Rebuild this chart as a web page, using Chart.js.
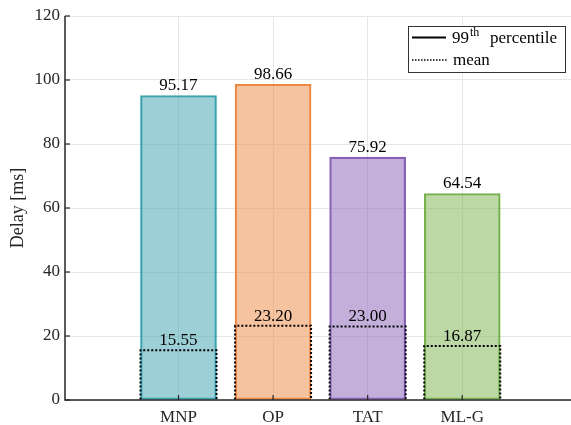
<!DOCTYPE html>
<html>
<head>
<meta charset="utf-8">
<script src="https://cdn.jsdelivr.net/npm/chart.js@4.4.1/dist/chart.umd.min.js"></script>
<style>
  html, body { margin: 0; padding: 0; background: #fff; }
  #wrap { width: 571px; height: 425px; position: relative; }
</style>
</head>
<body>
<div id="wrap"><canvas id="myChart" width="571" height="425"></canvas></div>
<script>
// data
const categories = ["MNP", "OP", "TAT", "ML-G"];
const positions = [1, 2, 3, 4];
const p99 = [95.17, 98.66, 75.92, 64.54];
const means = [15.55, 23.20, 23.00, 16.87];
const yTicks = [0, 20, 40, 60, 80, 100, 120];

const fills = ["rgba(58,162,174,0.5)", "rgba(237,136,66,0.5)", "rgba(135,96,182,0.5)", "rgba(119,177,76,0.5)"];
const edges = ["#3aa2ae", "#ed8842", "#8760b6", "#77b14c"];

const FONT = "'Liberation Serif', 'Times New Roman', serif";
const INK = "#262626";

// dotted outline for the mean bars + value labels + inward ticks + legend
const extras = {
    id: "extras",
    afterDatasetsDraw(chart) {
        const ctx = chart.ctx;
        const xs = chart.scales.x, ys = chart.scales.y;
        const area = chart.chartArea;

        ctx.save();
        // mean outline
        const meanMeta = chart.getDatasetMeta(1);
        ctx.strokeStyle = "#000";
        ctx.lineWidth = 2;
        ctx.setLineDash([2, 2]);
        meanMeta.data.forEach((bar) => {
            const l = bar.x - bar.width / 2, r = bar.x + bar.width / 2;
            ctx.beginPath();
            ctx.moveTo(l, bar.base);
            ctx.lineTo(l, bar.y);
            ctx.lineTo(r, bar.y);
            ctx.lineTo(r, bar.base);
            ctx.stroke();
        });
        ctx.setLineDash([]);

        // value labels
        ctx.fillStyle = "#000";
        ctx.font = "17px " + FONT;
        ctx.textAlign = "center";
        ctx.textBaseline = "alphabetic";
        [0, 1].forEach((di) => {
            const vals = chart.data.datasets[di].data;
            chart.getDatasetMeta(di).data.forEach((bar, i) => {
                ctx.fillText(vals[i].y.toFixed(2), bar.x, bar.y - 5);
            });
        });

        // axis lines on top of bars, inward ticks
        ctx.strokeStyle = INK;
        ctx.lineWidth = 1.5;
        ctx.beginPath();
        ctx.moveTo(area.left, area.top);
        ctx.lineTo(area.left, area.bottom);
        ctx.lineTo(chart.width, area.bottom);
        ctx.stroke();
        ctx.lineWidth = 1.2;
        yTicks.forEach((v) => {
            const py = ys.getPixelForValue(v);
            ctx.beginPath();
            ctx.moveTo(area.left, py);
            ctx.lineTo(area.left + 5, py);
            ctx.stroke();
        });
        positions.forEach((v) => {
            const px = xs.getPixelForValue(v);
            ctx.beginPath();
            ctx.moveTo(px, area.bottom);
            ctx.lineTo(px, area.bottom - 5);
            ctx.stroke();
        });

        // legend
        const bx = 408, by = 26, bw = 157, bh = 46;
        ctx.fillStyle = "#fff";
        ctx.fillRect(bx, by, bw, bh);
        ctx.strokeStyle = "#333";
        ctx.lineWidth = 1;
        ctx.strokeRect(bx + 0.5, by + 0.5, bw, bh);

        ctx.strokeStyle = "#000";
        ctx.lineWidth = 2;
        ctx.beginPath();
        ctx.moveTo(412, 37.5);
        ctx.lineTo(446, 37.5);
        ctx.stroke();
        ctx.setLineDash([1.5, 1.5]);
        ctx.lineWidth = 1.5;
        ctx.beginPath();
        ctx.moveTo(412, 60);
        ctx.lineTo(447, 60);
        ctx.stroke();
        ctx.setLineDash([]);

        ctx.fillStyle = "#000";
        ctx.textAlign = "left";
        ctx.font = "17px " + FONT;
        ctx.fillText("99", 452, 43);
        let tx = 452 + ctx.measureText("99").width + 1;
        ctx.font = "12px " + FONT;
        ctx.fillText("th", tx, 36);
        ctx.font = "17px " + FONT;
        ctx.fillText("percentile", 490, 43);
        ctx.fillText("mean", 453, 65);
        ctx.restore();
    }
};

const ctx = document.getElementById("myChart").getContext("2d");
new Chart(ctx, {
    type: "bar",
    data: {
        datasets: [
            {
                label: "99th percentile",
                data: positions.map((x, i) => ({ x: x, y: p99[i] })),
                backgroundColor: fills,
                borderColor: edges,
                borderWidth: 1.5,
                borderSkipped: false,
                barThickness: 76,
                grouped: false,
                order: 2
            },
            {
                label: "mean",
                data: positions.map((x, i) => ({ x: x, y: means[i] })),
                backgroundColor: "rgba(0,0,0,0)",
                borderWidth: 0,
                barThickness: 76,
                grouped: false,
                order: 1
            }
        ]
    },
    options: {
        responsive: false,
        animation: false,
        layout: { padding: { top: 16, right: 0, bottom: 0, left: 0 } },
        plugins: {
            legend: { display: false },
            tooltip: { enabled: false }
        },
        scales: {
            x: {
                type: "linear",
                offset: false,
                min: -0.2,
                max: 5.15,
                afterBuildTicks: (scale) => { scale.ticks = positions.map((v) => ({ value: v })); },
                afterFit: (scale) => { scale.height = 25; },
                ticks: {
                    autoSkip: false,
                    maxRotation: 0,
                    padding: 7,
                    color: INK,
                    font: { family: FONT, size: 17 },
                    callback: (v, i) => categories[i]
                },
                grid: { color: "#e6e6e6", lineWidth: 1, drawTicks: false, offset: false },
                border: { display: false }
            },
            y: {
                min: 0,
                max: 120,
                afterBuildTicks: (scale) => { scale.ticks = yTicks.map((v) => ({ value: v })); },
                afterFit: (scale) => { scale.width = 65; },
                ticks: {
                    padding: 5,
                    color: INK,
                    font: { family: FONT, size: 17 }
                },
                grid: { color: "#e6e6e6", lineWidth: 1, drawTicks: false },
                border: { display: false },
                title: {
                    display: true,
                    text: "Delay [ms]",
                    color: INK,
                    font: { family: FONT, size: 18 },
                    padding: { top: 7, bottom: 0 }
                }
            }
        }
    },
    plugins: [extras]
});
</script>
</body>
</html>
